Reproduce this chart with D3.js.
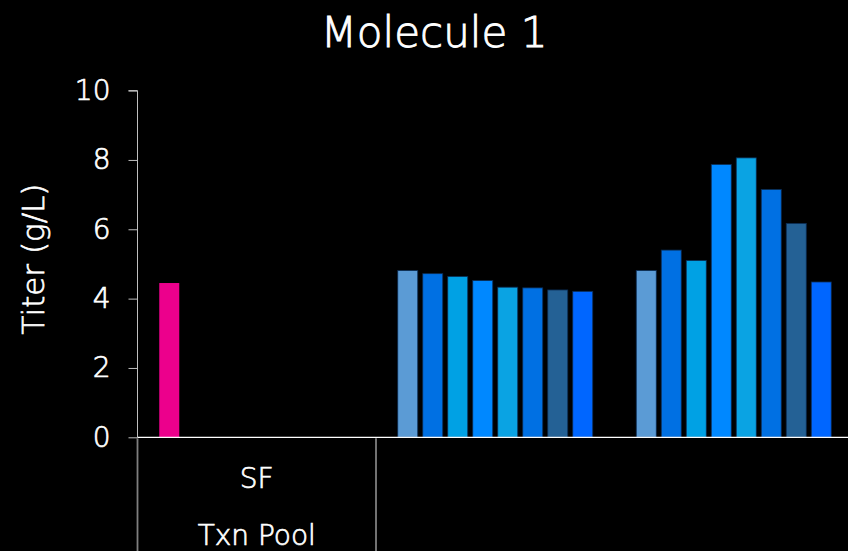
<!DOCTYPE html>
<html>
<head>
<meta charset="utf-8">
<script src="https://cdn.jsdelivr.net/npm/d3@7"></script>
<style>
  html, body { margin: 0; padding: 0; background: #000; }
  svg { display: block; }
  text { font-family: "DejaVu Sans", sans-serif; font-weight: 200; fill: #fff; stroke: #fff; stroke-width: 0.7px; }
</style>
</head>
<body>
<svg id="chart" width="848" height="551"></svg>
<script>
// ---- data ----
const title = "Molecule 1";
const yLabel = "Titer (g/L)";
const categories = ["SF", "G2", "G3"];
const categoryLabels = ["SF", "", ""];
const outerLabel = "Txn Pool";
const seriesNames = ["S1", "S2", "S3", "S4", "S5", "S6", "S7", "S8"];
const valuesSF = [4.45, null, null, null, null, null, null, null];
const valuesG2 = [4.81, 4.72, 4.64, 4.52, 4.33, 4.31, 4.25, 4.21];
const valuesG3 = [4.81, 5.40, 5.10, 7.87, 8.06, 7.15, 6.17, 4.48];
const seriesColors = ["#5b9bd5", "#0070e3", "#00a1e4", "#0088ff", "#0aa3e3", "#0070e3", "#246195", "#0066ff"];
const sfColor = "#ec008c";
const yTicks = [0, 2, 4, 6, 8, 10];

const allValues = [valuesSF, valuesG2, valuesG3];

const svg = d3.select("#chart");
const W = 848, H = 551;
const x0 = 137.5, yTop = 90.6, yBase = 437.3;
const groupW = 238.5;

const x = d3.scaleBand().domain(categories).range([x0, x0 + groupW * categories.length]).paddingInner(0).paddingOuter(0);
const xs = d3.scaleBand().domain(seriesNames).range([19.25, groupW - 19.25]).paddingInner(0.2).paddingOuter(0.1);
const y = d3.scaleLinear().domain([0, 10]).range([yBase, yTop]);

// title
svg.append("text").attr("x", 434).attr("y", 47).attr("text-anchor", "middle")
  .attr("font-size", 42).style("stroke-width", "0.9px").text(title);

// y label
svg.append("text").attr("transform", "translate(44,259) rotate(-90)")
  .attr("text-anchor", "middle").attr("font-size", 31).text(yLabel);

// bars
const bars = [];
categories.forEach((c, ci) => {
  allValues[ci].forEach((v, si) => {
    if (v == null) return;
    bars.push({ c, s: seriesNames[si], v, color: ci === 0 ? sfColor : seriesColors[si], ci });
  });
});
svg.append("g").selectAll("rect").data(bars).join("rect")
  .attr("x", d => x(d.c) + xs(d.s))
  .attr("width", xs.bandwidth())
  .attr("y", d => y(d.v))
  .attr("height", d => yBase - y(d.v))
  .attr("fill", d => d.color)
  .attr("stroke", d => d.ci === 0 ? "none" : "#0b2c52")
  .attr("stroke-width", 0.8);

// y axis
const yAxis = svg.append("g").attr("transform", `translate(${x0},0)`)
  .call(d3.axisLeft(y).tickValues(yTicks).tickSize(9).tickPadding(18).tickFormat(d3.format("d")));
yAxis.attr("font-family", null).attr("font-size", null);
yAxis.select(".domain").attr("stroke", "#bfbfbf").attr("d", `M-9,${y(10)}H0V${yBase}`);
yAxis.selectAll(".tick line").attr("stroke", "#bfbfbf");
yAxis.selectAll(".tick text").attr("font-size", 28).attr("fill", "#fff");

// x axis baseline
svg.append("line").attr("x1", x0).attr("x2", W).attr("y1", yBase).attr("y2", yBase)
  .attr("stroke", "#fff").attr("stroke-width", 1.3);

// category separators (group 1 only)
const sepX = [x(categories[0]), x(categories[0]) + x.bandwidth()];
svg.append("g").selectAll("line").data(sepX).join("line")
  .attr("x1", d => d).attr("x2", d => d)
  .attr("y1", yBase + 1).attr("y2", H)
  .attr("stroke", "#7f7f7f").attr("stroke-width", 1.8);

// category labels
svg.append("g").selectAll("text").data(categories).join("text")
  .attr("x", d => x(d) + x.bandwidth() / 2)
  .attr("y", 488).attr("text-anchor", "middle").attr("font-size", 28)
  .text((d, i) => categoryLabels[i]);

// outer label
svg.append("text").attr("x", x(categories[0]) + x.bandwidth() / 2).attr("y", 545)
  .attr("text-anchor", "middle").attr("font-size", 28).text(outerLabel);
</script>
</body>
</html>
